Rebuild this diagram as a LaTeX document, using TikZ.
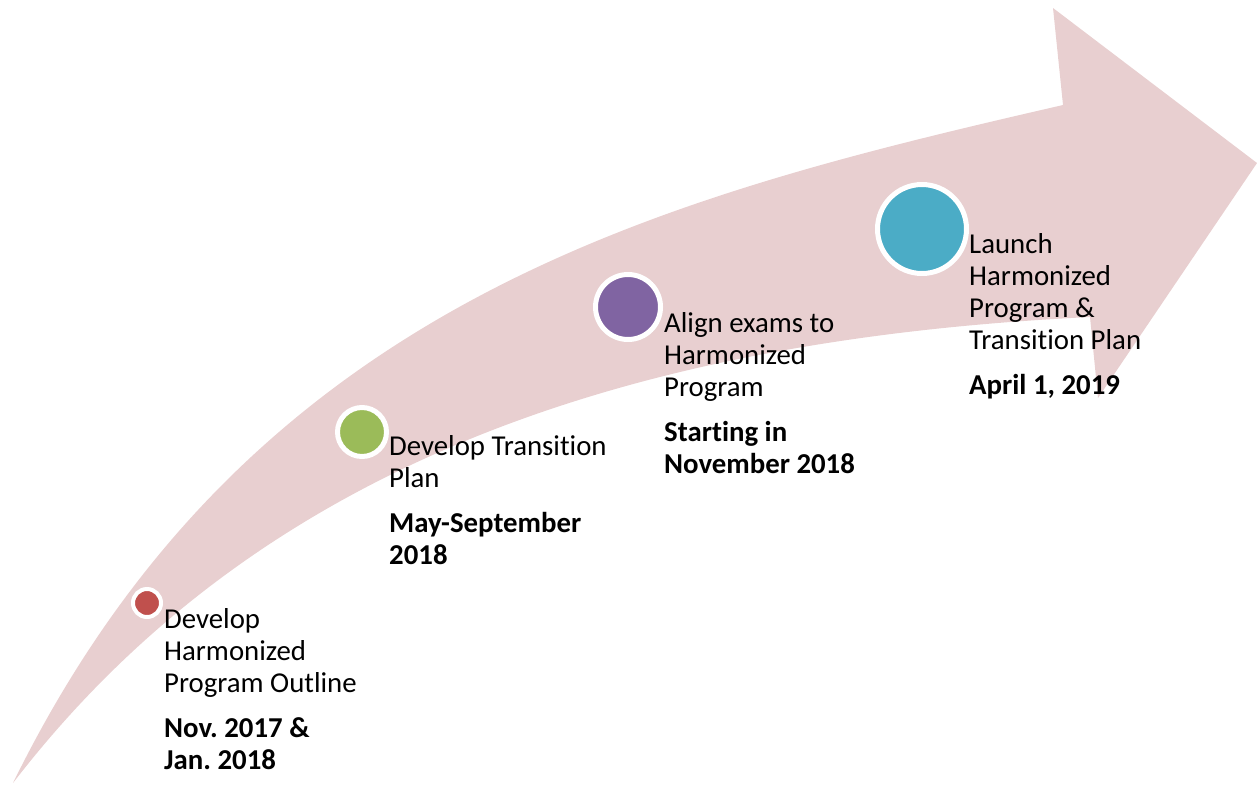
\documentclass[tikz,border=0pt]{standalone}
\usepackage{fontspec}
\setmainfont{Carlito}[Ligatures=NoCommon]
\usepackage{tikz}
\usetikzlibrary{positioning}
\frenchspacing

\definecolor{bandpink}{RGB}{232,207,208}
\definecolor{stepred}{RGB}{192,80,77}
\definecolor{stepgreen}{RGB}{155,187,89}
\definecolor{steppurple}{RGB}{128,100,162}
\definecolor{stepteal}{RGB}{75,172,198}

\tikzset{
	dot/.style={circle,draw=white,line width=5pt,inner sep=0pt},
	lbl/.style={anchor=base west,align=left,inner sep=0pt,font=\fontsize{28.8}{32}\selectfont}
}

\begin{document}
\begin{tikzpicture}[x=1pt,y=1pt]
		\useasboundingbox (0,0) rectangle (1257,-785);
		% the curved arrow
		\fill[bandpink] (13,-783) .. controls (250,-300) and (663,-197) .. (1063,-105)
			-- (1053,-8) -- (1257,-163) -- (1098,-398) -- (1090,-317)
			.. controls (640,-339) and (263,-458) .. cycle;
		% milestones (labels hang from their last baseline)
		\node[dot,fill=stepred,line width=4pt,minimum size=28pt] (c1) at (147,-603) {};
		\node[dot,fill=stepgreen,minimum size=49pt]  (c2) at (362,-432) {};
		\node[dot,fill=steppurple,minimum size=65pt] (c3) at (628,-307) {};
		\node[dot,fill=stepteal,minimum size=89pt]   (c4) at (922,-229) {};
		\node[lbl] (t1) [below right=166pt and 1pt of c1.east,anchor=base west]
			{Develop\\Harmonized\\Program Outline\\[13pt]\textbf{Nov. 2017 \&}\\\textbf{Jan. 2018}};
		\node[lbl] (t2) [below right=132pt and 0pt of c2.east,anchor=base west]
			{Develop Transition\\Plan\\[13pt]\textbf{May-September}\\\textbf{2018}};
		\node[lbl] (t3) [below right=166pt and 1pt of c3.east,anchor=base west]
			{Align exams to\\Harmonized\\Program\\[13pt]\textbf{Starting in}\\\textbf{November 2018}};
		\node[lbl] (t4) [below right=165pt and 0pt of c4.east,anchor=base west]
			{Launch\\Harmonized\\Program \&\\Transition Plan\\[13pt]\textbf{April 1, 2019}};
	\end{tikzpicture}
\end{document}
